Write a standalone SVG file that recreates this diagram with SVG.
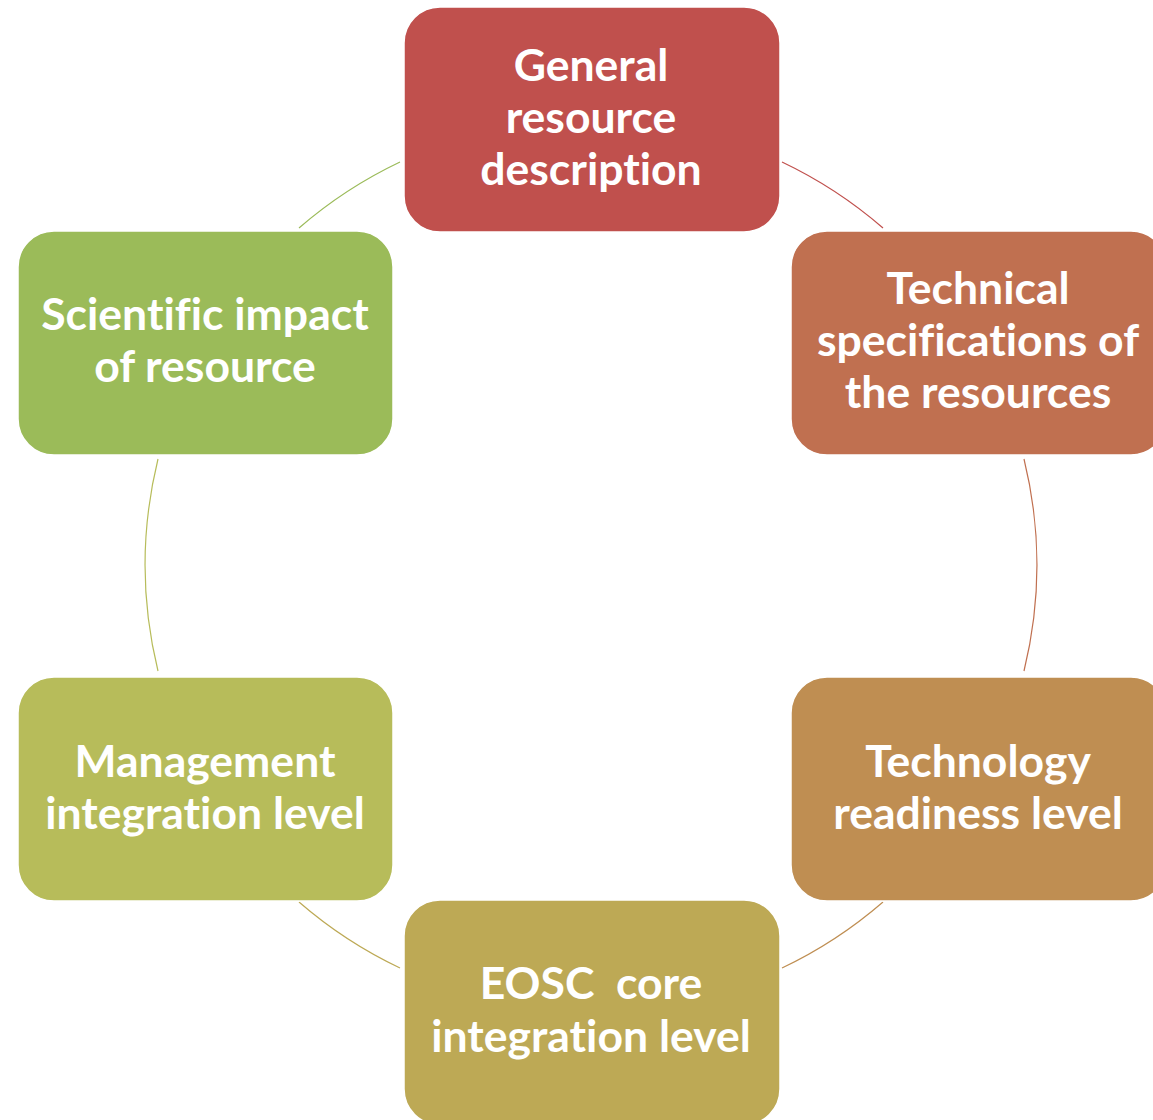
<svg xmlns="http://www.w3.org/2000/svg" width="1153" height="1120" viewBox="0 0 1153 1120">
<style>
.box{stroke:#ffffff;stroke-width:1.5}
.lbl{font-family:Lato,"Open Sans",sans-serif;font-weight:bold;font-size:44.5px;fill:#ffffff;text-anchor:middle;font-variant-ligatures:no-common-ligatures}
.arc{fill:none;stroke-width:1.2}
</style>
<rect width="1153" height="1120" fill="#ffffff"/>
<g id="connectors">
<path class="arc" stroke="#C0504D" d="M782,162 A446,446 0 0 1 883,228"/>
<path class="arc" stroke="#C07050" d="M1024,459 A446,446 0 0 1 1024,671"/>
<path class="arc" stroke="#BF8E52" d="M883,902 A446,446 0 0 1 782,968"/>
<path class="arc" stroke="#BDA955" d="M400,968 A446,446 0 0 1 299,902"/>
<path class="arc" stroke="#B7BC5A" d="M158,671 A446,446 0 0 1 158,459"/>
<path class="arc" stroke="#9BBB59" d="M299,228 A446,446 0 0 1 400,162"/>
</g>
<g id="node-general">
<rect class="box" x="404" y="7" width="376" height="225" rx="36" fill="#C0504D"/>
<text class="lbl" x="591" y="81">General</text>
<text class="lbl" x="591" y="133">resource</text>
<text class="lbl" x="591" y="185">description</text>
</g>
<g id="node-technical">
<rect class="box" x="791" y="231" width="376" height="224" rx="36" fill="#C07050"/>
<text class="lbl" x="978" y="304">Technical</text>
<text class="lbl" x="978" y="356">specifications of</text>
<text class="lbl" x="978" y="408">the resources</text>
</g>
<g id="node-technology">
<rect class="box" x="791" y="677" width="376" height="224" rx="36" fill="#BF8E52"/>
<text class="lbl" x="978" y="777">Technology</text>
<text class="lbl" x="978" y="829">readiness level</text>
</g>
<g id="node-eosc">
<rect class="box" x="404" y="900" width="376" height="225" rx="36" fill="#BDA955"/>
<text class="lbl" x="591" y="999" xml:space="preserve">EOSC  core</text>
<text class="lbl" x="591" y="1052">integration level</text>
</g>
<g id="node-management">
<rect class="box" x="18" y="677" width="375" height="224" rx="36" fill="#B7BC5A"/>
<text class="lbl" x="205" y="777">Management</text>
<text class="lbl" x="205" y="829">integration level</text>
</g>
<g id="node-scientific">
<rect class="box" x="18" y="231" width="375" height="224" rx="36" fill="#9BBB59"/>
<text class="lbl" x="205" y="330">Scientific impact</text>
<text class="lbl" x="205" y="382">of resource</text>
</g>
</svg>
